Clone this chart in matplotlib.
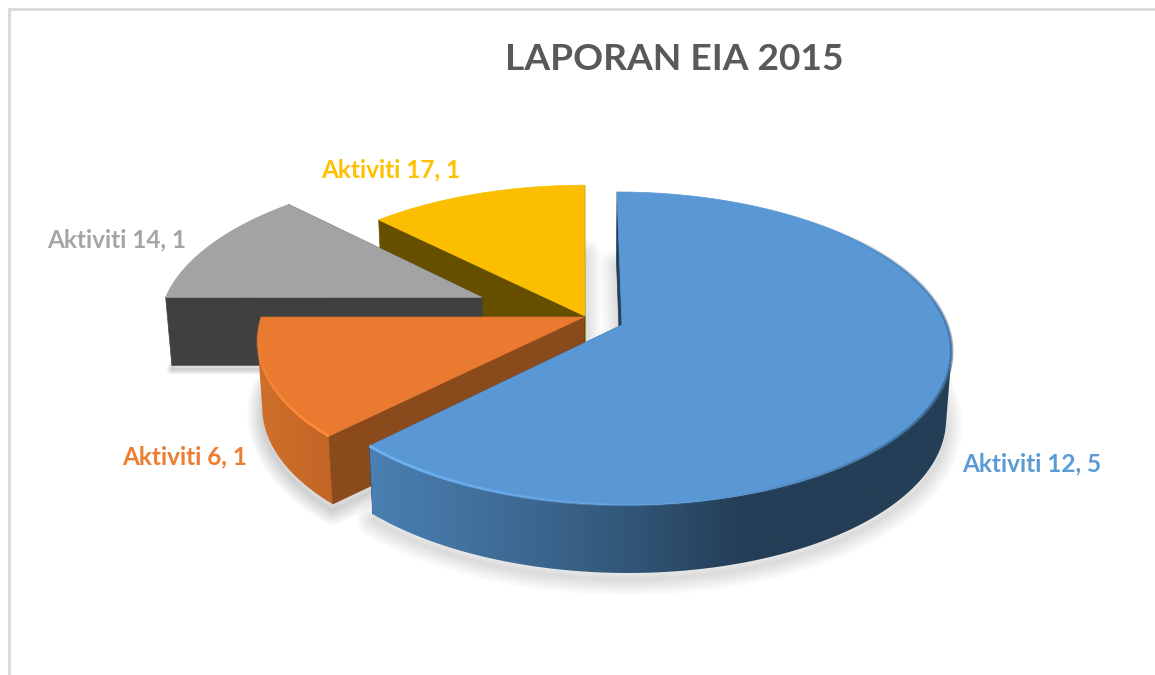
#!/usr/bin/env python3
# -*- coding: utf-8 -*-
import matplotlib
matplotlib.use('Agg')
import matplotlib.pyplot as plt
import numpy as np
from matplotlib.collections import LineCollection
from matplotlib.patches import Polygon

title = 'LAPORAN EIA 2015'
categories = ['Aktiviti 12', 'Aktiviti 6', 'Aktiviti 14', 'Aktiviti 17']
values = [5, 1, 1, 1]

# how far each slice is pulled out, in disc units (x, y)
explode_x = [0.0, -0.118, -0.44, -0.114]
explode_y = [0.0, 0.052, 0.186, 0.059]

top_colors = ['#5a98d5', '#ea7a30', '#a3a3a3', '#fbbe00']
cut_colors = ['#24405a', '#8a4a1c', '#404040', '#674f00']
label_colors = ['#5b9bd5', '#ed7d31', '#a5a5a5', '#ffc000']
label_x = [962, 122, 47, 321]
label_y = [464, 457, 240, 170]

# side gradients (pixel x -> colour)
side_stops = [
    ([370, 470, 560, 650, 740, 960], ['#4a80b3', '#42719e', '#3a6389', '#2f5272', '#243e57', '#243e56']),
    ([258, 335], ['#cf6f2b', '#c26525']),
    ([160, 300], ['#404040', '#404040']),
    ([370, 590], ['#674f00', '#674f00']),
]
rim_colors = ['#6fb2f2', '#ff8c3a', None, None]
rim_spans = [(225, 165), (225, 268), None, None]
# shadow settings: y shift, spread, alpha
shadow_dy = [6, 6, 4, 2]
shadow_spread = [24, 22, 8, 24]
shadow_alpha = [0.013, 0.014, 0.014, 0.012]

# perspective of the disc
x0, y0 = 622, 325
sx_a, sy_b, skew, persp = 325, 153, -5.75, 0.15
thick, vanish_x, vanish_k = 68, 580, 0.985


def project(X, Y):
    w = 1 + persp * Y
    return x0 + (sx_a * X + skew * Y) / w, y0 - sy_b * Y / w


def drop(x, y):
    return vanish_x + (x - vanish_x) * vanish_k, y + thick


def arc(ex, ey, a1, a2, n=160):
    t = np.radians(np.linspace(a1, a2, n))
    return project(ex + np.sin(t), ey + np.cos(t))


# images sit under patches by default, so every artist gets its own zorder
z = 1


def nextz():
    global z
    z += 1
    return z


def gradient_fill(ax, xs, ys, stops):
    sx, cols = stops
    rgb = np.array([matplotlib.colors.to_rgb(c) for c in cols])
    grid = np.linspace(xs.min() - 2, xs.max() + 2, 300)
    img = np.stack([np.interp(grid, sx, rgb[:, i]) for i in range(3)], axis=1)
    im = ax.imshow(img[None, :, :], extent=[grid[0], grid[-1], ys.max() + 2, ys.min() - 2],
                   aspect='auto', interpolation='bilinear', zorder=nextz())
    clip = Polygon(np.column_stack([xs, ys]), closed=True, transform=ax.transData)
    im.set_clip_path(clip)


def soft_shadow(ax, xs, ys, dy, spread, alpha):
    for lw in np.linspace(1, spread, 12):
        ax.fill(xs, ys + dy, facecolor='none', edgecolor='black', lw=lw,
                alpha=alpha, joinstyle='round', zorder=nextz())


def rim_line(ax, ex, ey, span, color, lw=2.0, peak=1.2):
    x, y = arc(ex, ey, span[0], span[1], 80)
    pts = np.column_stack([x, y])
    segs = np.stack([pts[:-1], pts[1:]], axis=1)
    rgb = matplotlib.colors.to_rgb(color)
    al = np.minimum(1.0, np.linspace(peak, 0.0, len(segs)))
    lc = LineCollection(segs, colors=[(*rgb, a) for a in al], linewidths=lw, zorder=nextz())
    ax.add_collection(lc)


fig = plt.figure(figsize=(11.55, 6.75), dpi=100)
ax = fig.add_axes([0, 0, 1, 1])
ax.axis('off')

# chart frame, only top and left survive in the picture
ax.plot([9, 9, 1155], [675, 9, 9], color='#d9d9d9', lw=2, solid_joinstyle='miter')

ends = np.cumsum(values) / np.sum(values) * 360
starts = np.concatenate([[0], ends[:-1]])

# draw back to front
order = [3, 2, 1, 0]
for i in order:
    a1, a2 = starts[i], ends[i]
    ex, ey = explode_x[i], explode_y[i]
    ax_top, ay_top = project(ex, ey)
    xr, yr = arc(ex, ey, a1, a2)
    xb, yb = drop(xr, yr)
    top_x = np.concatenate([[ax_top], xr])
    top_y = np.concatenate([[ay_top], yr])

    # shadow under the bottom outline
    bx, by = drop(top_x, top_y)
    soft_shadow(ax, bx, by, shadow_dy[i], shadow_spread[i], shadow_alpha[i])

    # cut faces: the one that looks away goes first
    area = np.sum(top_x * np.roll(top_y, -1) - np.roll(top_x, -1) * top_y)
    cuts = [((ax_top, ay_top), (xr[0], yr[0])), ((xr[-1], yr[-1]), (ax_top, ay_top))]
    back, front = [], []
    for p, q in cuts:
        pb, qb = drop(*p), drop(*q)
        quad = [p, q, qb, pb]
        cross = (q[0] - p[0]) * (pb[1] - p[1]) - (q[1] - p[1]) * (pb[0] - p[0])
        (front if cross * area < 0 else back).append(quad)
    for quad in back:
        ax.add_patch(Polygon(quad, closed=True, fc=cut_colors[i], ec=cut_colors[i], lw=0.5, zorder=nextz()))

    # only the part of the round side that faces the viewer
    tx, ty = np.gradient(xr), np.gradient(yr)
    seen = (tx * (yb - yr) - ty * (xb - xr)) * area < 0
    if seen.sum() > 1:
        side_x = np.concatenate([xr[seen], xb[seen][::-1]])
        side_y = np.concatenate([yr[seen], yb[seen][::-1]])
        gradient_fill(ax, side_x, side_y, side_stops[i])

    for quad in front:
        ax.add_patch(Polygon(quad, closed=True, fc=cut_colors[i], ec=cut_colors[i], lw=0.5, zorder=nextz()))

    ax.fill(top_x, top_y, facecolor=top_colors[i], edgecolor=top_colors[i], lw=0.5, zorder=nextz())
    if i == 0:
        # soft dark edge on the right hand side of the big slice, fades both ways
        rim_line(ax, ex, ey, (115, 40), '#33597f', lw=2.5, peak=0.7)
        rim_line(ax, ex, ey, (115, 170), '#33597f', lw=2.5, peak=0.7)
    if rim_spans[i] is not None:
        rim_line(ax, ex, ey, rim_spans[i], rim_colors[i])

    ax.text(label_x[i], label_y[i], '{}, {}'.format(categories[i], values[i]),
            color=label_colors[i], fontsize=17.6, fontweight='bold', family='Lato',
            ha='left', va='center', zorder=500)

ax.text(674, 59, title, color='#595959', fontsize=26.7, fontweight='bold', family='Lato',
        ha='center', va='center', zorder=500)

ax.set_xlim(0, 1155)
ax.set_ylim(675, 0)
plt.savefig('out.png', dpi=100)
